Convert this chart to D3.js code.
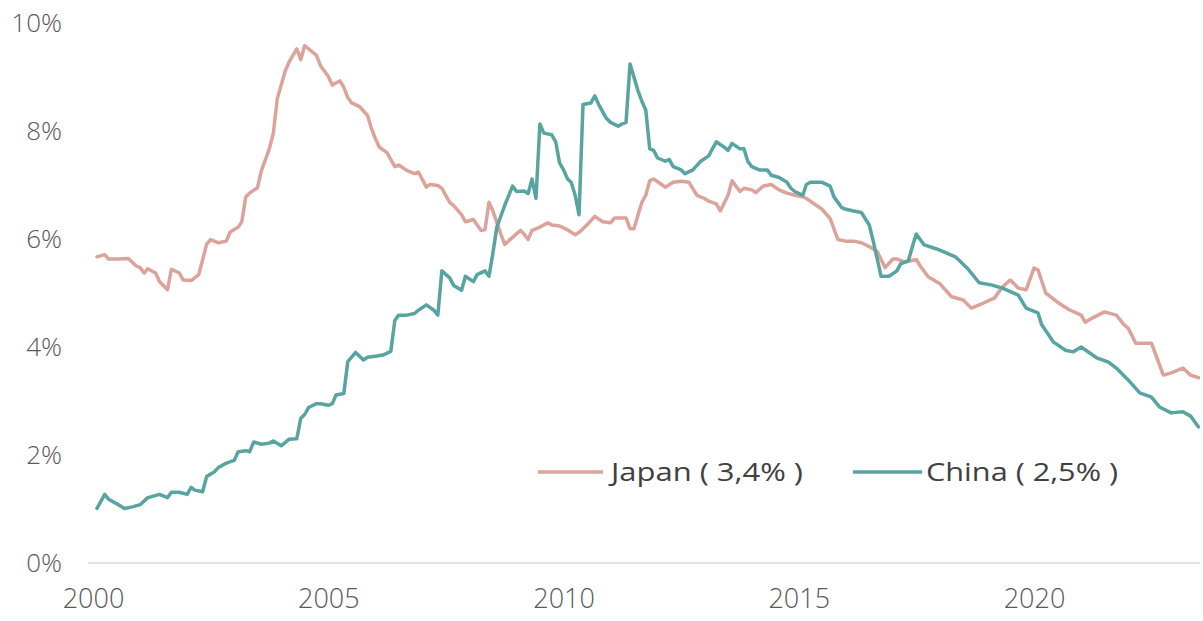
<!DOCTYPE html>
<html>
<head>
<meta charset="utf-8">
<script src="https://cdn.jsdelivr.net/npm/d3@7"></script>
<style>
  html, body { margin: 0; padding: 0; background: #ffffff; }
  svg { display: block; }
</style>
</head>
<body>
<svg id="chart" width="1203" height="621"></svg>
<script>
// ---- DATA ----
const japanDates = ["2000-02","2000-04","2000-05","2000-07","2000-10","2000-11","2000-12","2001-01","2001-02","2001-03","2001-05","2001-06","2001-08","2001-09","2001-11","2001-12","2002-02","2002-04","2002-06","2002-07","2002-09","2002-11","2002-12","2003-02","2003-03","2003-04","2003-05","2003-07","2003-08","2003-10","2003-11","2003-12","2004-02","2004-03","2004-04","2004-05","2004-06","2004-07","2004-10","2004-11","2005-01","2005-02","2005-04","2005-05","2005-06","2005-07","2005-09","2005-11","2005-12","2006-01","2006-02","2006-04","2006-06","2006-07","2006-09","2006-11","2006-12","2007-02","2007-03","2007-05","2007-06","2007-08","2007-09","2007-11","2007-12","2008-02","2008-03","2008-04","2008-05","2008-06","2008-07","2008-09","2008-10","2008-12","2009-02","2009-03","2009-04","2009-05","2009-07","2009-09","2009-10","2009-12","2010-02","2010-04","2010-05","2010-07","2010-09","2010-11","2011-01","2011-02","2011-05","2011-06","2011-07","2011-09","2011-10","2011-11","2011-12","2012-02","2012-03","2012-05","2012-07","2012-09","2012-11","2013-01","2013-02","2013-04","2013-05","2013-07","2013-08","2013-10","2013-11","2014-01","2014-02","2014-04","2014-06","2014-08","2014-10","2014-12","2015-02","2015-03","2015-05","2015-07","2015-09","2015-11","2016-01","2016-03","2016-05","2016-07","2016-09","2016-11","2017-01","2017-02","2017-04","2017-07","2017-08","2017-10","2018-01","2018-04","2018-07","2018-09","2018-12","2019-03","2019-05","2019-07","2019-09","2019-11","2020-01","2020-02","2020-04","2020-07","2020-10","2021-01","2021-02","2021-04","2021-07","2021-10","2021-12","2022-01","2022-03","2022-07","2022-10","2022-12","2023-03","2023-05","2023-07"];
const japanValues = [5.67,5.71,5.63,5.63,5.64,5.57,5.50,5.47,5.37,5.45,5.37,5.21,5.06,5.44,5.37,5.24,5.23,5.34,5.90,5.99,5.93,5.96,6.13,6.22,6.32,6.78,6.85,6.95,7.27,7.67,7.96,8.59,9.11,9.27,9.40,9.52,9.32,9.58,9.40,9.21,9.01,8.85,8.93,8.81,8.62,8.52,8.45,8.29,8.05,7.86,7.70,7.60,7.34,7.37,7.27,7.21,7.24,6.96,7.01,6.99,6.94,6.68,6.62,6.45,6.32,6.36,6.26,6.16,6.17,6.68,6.52,6.09,5.90,6.03,6.16,6.09,5.99,6.16,6.22,6.30,6.26,6.24,6.17,6.08,6.12,6.26,6.42,6.32,6.30,6.39,6.39,6.19,6.19,6.68,6.81,7.08,7.11,7.01,6.96,7.05,7.07,7.05,6.81,6.75,6.70,6.65,6.52,6.81,7.08,6.88,6.94,6.91,6.86,6.98,7.01,6.91,6.85,6.81,6.78,6.75,6.65,6.55,6.38,5.99,5.96,5.96,5.93,5.86,5.77,5.47,5.63,5.63,5.57,5.62,5.50,5.30,5.17,4.93,4.87,4.72,4.81,4.91,5.11,5.24,5.09,5.06,5.46,5.43,5.00,4.83,4.69,4.59,4.46,4.54,4.65,4.59,4.41,4.35,4.07,4.07,3.48,3.52,3.61,3.48,3.43];

const chinaDates = ["2000-02","2000-04","2000-05","2000-07","2000-09","2000-11","2001-01","2001-03","2001-04","2001-06","2001-08","2001-09","2001-11","2002-01","2002-02","2002-03","2002-05","2002-06","2002-08","2002-09","2002-11","2003-01","2003-02","2003-04","2003-05","2003-06","2003-08","2003-10","2003-11","2004-01","2004-03","2004-05","2004-06","2004-07","2004-08","2004-10","2004-11","2005-01","2005-02","2005-03","2005-05","2005-06","2005-08","2005-10","2005-11","2006-01","2006-03","2006-05","2006-06","2006-07","2006-09","2006-11","2006-12","2007-02","2007-04","2007-05","2007-06","2007-08","2007-09","2007-11","2007-12","2008-02","2008-03","2008-05","2008-06","2008-07","2008-08","2008-10","2008-12","2009-01","2009-03","2009-04","2009-05","2009-06","2009-07","2009-08","2009-10","2009-11","2009-12","2010-01","2010-02","2010-03","2010-04","2010-05","2010-06","2010-08","2010-09","2010-10","2010-12","2011-01","2011-03","2011-04","2011-05","2011-06","2011-08","2011-09","2011-10","2011-11","2011-12","2012-01","2012-03","2012-04","2012-05","2012-07","2012-08","2012-10","2012-12","2013-02","2013-03","2013-04","2013-06","2013-07","2013-08","2013-10","2013-11","2013-12","2014-01","2014-03","2014-05","2014-06","2014-08","2014-10","2014-11","2014-12","2015-02","2015-03","2015-04","2015-07","2015-09","2015-10","2015-12","2016-01","2016-03","2016-05","2016-07","2016-08","2016-09","2016-10","2016-12","2017-02","2017-03","2017-05","2017-06","2017-07","2017-09","2017-12","2018-02","2018-05","2018-08","2018-11","2019-02","2019-05","2019-09","2019-11","2020-02","2020-03","2020-06","2020-09","2020-11","2021-01","2021-05","2021-08","2021-10","2022-01","2022-04","2022-07","2022-09","2022-12","2023-03","2023-05","2023-07"];
const chinaValues = [1.01,1.27,1.18,1.10,1.01,1.04,1.08,1.21,1.23,1.27,1.21,1.31,1.31,1.27,1.40,1.35,1.32,1.60,1.69,1.77,1.85,1.90,2.06,2.08,2.06,2.24,2.20,2.22,2.26,2.17,2.29,2.30,2.68,2.75,2.88,2.95,2.95,2.92,2.95,3.11,3.14,3.73,3.90,3.76,3.81,3.83,3.85,3.92,4.49,4.59,4.59,4.62,4.68,4.78,4.68,4.59,5.41,5.28,5.14,5.05,5.31,5.21,5.34,5.41,5.31,5.73,6.22,6.62,6.98,6.88,6.89,6.84,7.11,6.75,8.13,7.96,7.93,7.80,7.41,7.28,7.11,7.05,6.81,6.45,8.49,8.52,8.65,8.49,8.23,8.16,8.09,8.13,8.16,9.24,8.75,8.55,8.39,7.67,7.64,7.50,7.44,7.47,7.34,7.28,7.21,7.28,7.44,7.54,7.67,7.80,7.70,7.64,7.77,7.67,7.67,7.44,7.34,7.28,7.28,7.18,7.14,7.05,6.94,6.88,6.81,7.01,7.05,7.05,6.98,6.78,6.58,6.55,6.52,6.49,6.26,5.96,5.63,5.31,5.31,5.41,5.54,5.60,5.86,6.09,5.89,5.82,5.76,5.67,5.46,5.19,5.15,5.09,4.96,4.72,4.63,4.41,4.09,3.94,3.91,4.00,3.80,3.72,3.61,3.39,3.15,3.07,2.89,2.78,2.80,2.72,2.52];

const seriesNames = ["Japan ( 3,4% )", "China ( 2,5% )"];
const yTickValues = [0, 2, 4, 6, 8, 10];
const xTickYears = [2000, 2005, 2010, 2015, 2020];

// ---- LAYOUT / STYLE ----
const colors = { japan: "#dba39b", china: "#58a4a1" };
const svg = d3.select("#chart");
const parse = d3.timeParse("%Y-%m");

const x = d3.scaleTime()
  .domain([new Date(2000, 0, 1), new Date(2020, 0, 1)])
  .range([93, 1034]);
const y = d3.scaleLinear().domain([0, 10]).range([563, 23]);

// axis baseline
svg.append("line")
  .attr("x1", 88).attr("x2", 1200)
  .attr("y1", y(0)).attr("y2", y(0))
  .attr("stroke", "#d9d9d9").attr("stroke-width", 1.5);

// y tick labels
const yAxis = d3.axisLeft(y).tickValues(yTickValues).tickFormat(d => d + "%").tickSize(0).tickPadding(0);
const gy = svg.append("g").attr("transform", "translate(62,0)").call(yAxis);
gy.select(".domain").remove();
gy.selectAll("text")
  .attr("fill", "#595959")
  .style("font-family", "'Open Sans', sans-serif")
  .style("font-weight", 300)
  .style("font-size", "26px");

// x tick labels
const xAxis = d3.axisBottom(x)
  .tickValues(xTickYears.map(yr => new Date(yr, 0, 1)))
  .tickFormat(d3.timeFormat("%Y")).tickSize(0).tickPadding(0);
const gx = svg.append("g").attr("transform", "translate(0,589)").call(xAxis);
gx.select(".domain").remove();
gx.selectAll("text")
  .attr("fill", "#595959")
  .attr("dy", "0.71em")
  .style("font-family", "'Open Sans', sans-serif")
  .style("font-weight", 300)
  .style("font-size", "27px");

// lines
const line = d3.line().x(d => x(d.date)).y(d => y(d.value)).curve(d3.curveLinear);
const japan = japanDates.map((d, i) => ({ date: parse(d), value: japanValues[i] }));
const china = chinaDates.map((d, i) => ({ date: parse(d), value: chinaValues[i] }));

svg.append("path").datum(japan)
  .attr("d", line).attr("fill", "none")
  .attr("stroke", colors.japan).attr("stroke-width", 3.5)
  .attr("stroke-linejoin", "round").attr("stroke-linecap", "round");
svg.append("path").datum(china)
  .attr("d", line).attr("fill", "none")
  .attr("stroke", colors.china).attr("stroke-width", 3.5)
  .attr("stroke-linejoin", "round").attr("stroke-linecap", "round");

// legend
const legendY = 472;
const legendItems = [
  { name: seriesNames[0], color: colors.japan, x1: 538, x2: 603, tx: 611 },
  { name: seriesNames[1], color: colors.china, x1: 853, x2: 922, tx: 926 }
];
const lg = svg.append("g");
legendItems.forEach(it => {
  lg.append("line")
    .attr("x1", it.x1).attr("x2", it.x2)
    .attr("y1", legendY).attr("y2", legendY)
    .attr("stroke", it.color).attr("stroke-width", 3.5);
  lg.append("text")
    .attr("x", it.tx).attr("y", legendY)
    .attr("dy", "0.36em")
    .attr("fill", "#404040")
    .attr("textLength", 192)
    .attr("lengthAdjust", "spacingAndGlyphs")
    .style("font-family", "'Open Sans', sans-serif")
    .style("font-size", "25px")
    .text(it.name);
});
</script>
</body>
</html>
